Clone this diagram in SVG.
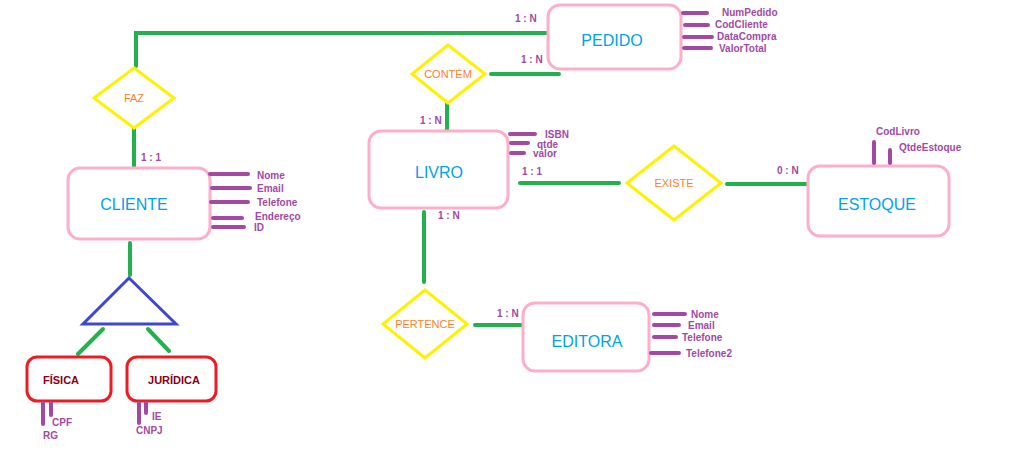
<svg xmlns="http://www.w3.org/2000/svg" width="1018" height="450" viewBox="0 0 1018 450">
<style>
.ent{fill:#fff;stroke:#FFAEC9;stroke-width:3}
.sub{fill:#fff;stroke:#ED1C24;stroke-width:3}
.rel{fill:#fff;stroke:#FFF200;stroke-width:3}
.en{font-family:"Liberation Sans",Arial,sans-serif;font-size:16px;fill:#00A2E8;text-anchor:middle}
.sn{font-family:"Liberation Sans",Arial,sans-serif;font-size:11px;font-weight:bold;fill:#880015;text-anchor:middle}
.rn{font-family:"Liberation Sans",Arial,sans-serif;font-size:11px;fill:#FF7F27;text-anchor:middle}
.at{font-family:"Liberation Sans",Arial,sans-serif;font-size:10px;font-weight:bold;fill:#A349A4}
.ca{font-family:"Liberation Sans",Arial,sans-serif;font-size:10px;font-weight:bold;fill:#A349A4}
.al{stroke:#A349A4;stroke-width:4;stroke-linecap:round;fill:none}
.cn{stroke:#22B14C;stroke-width:4;stroke-linecap:round;fill:none}
</style>
<rect width="1018" height="450" fill="#fff"/>
<g id="connectors">
<polyline class="cn" points="547,33 136,33 136,66"/>
<line class="cn" x1="134" y1="128" x2="134" y2="167"/>
<line class="cn" x1="491" y1="74" x2="559" y2="74"/>
<line class="cn" x1="447" y1="104" x2="447" y2="130"/>
<line class="cn" x1="520" y1="183" x2="619" y2="183"/>
<line class="cn" x1="727" y1="184" x2="806" y2="184"/>
<line class="cn" x1="424" y1="212" x2="424" y2="282"/>
<line class="cn" x1="475" y1="325" x2="522" y2="325"/>
<line class="cn" x1="130" y1="243" x2="130" y2="275"/>
<line class="cn" x1="103" y1="329" x2="78" y2="354"/>
<line class="cn" x1="148" y1="329" x2="169" y2="351"/>
<text class="ca" x="515" y="22">1 : N</text>
<text class="ca" x="521" y="63">1 : N</text>
<text class="ca" x="141" y="161">1 : 1</text>
<text class="ca" x="420" y="124">1 : N</text>
<text class="ca" x="522" y="175">1 : 1</text>
<text class="ca" x="438" y="219">1 : N</text>
<text class="ca" x="777" y="174">0 : N</text>
<text class="ca" x="497" y="317">1 : N</text>
</g>
<g id="pedido">
<rect class="ent" x="548" y="5" width="133" height="64" rx="12"/>
<text class="en" x="612" y="46">PEDIDO</text>
<line class="al" x1="683" y1="13" x2="707" y2="13"/>
<line class="al" x1="685" y1="25" x2="708" y2="25"/>
<line class="al" x1="684" y1="37" x2="712" y2="37"/>
<line class="al" x1="684" y1="48" x2="711" y2="48"/>
<text class="at" x="722" y="16">NumPedido</text>
<text class="at" x="715" y="28">CodCliente</text>
<text class="at" x="717" y="39.5">DataCompra</text>
<text class="at" x="719" y="51.5">ValorTotal</text>
</g>
<g id="faz">
<polygon class="rel" points="134,68 174,98 134,128 94,98"/>
<text class="rn" x="134" y="102">FAZ</text>
</g>
<g id="contem">
<polygon class="rel" points="448,45 485,74 448,103 412,74"/>
<text class="rn" x="448" y="78">CONTÉM</text>
</g>
<g id="cliente">
<rect class="ent" x="68" y="168" width="142" height="71" rx="12"/>
<text class="en" x="134" y="210">CLIENTE</text>
<line class="al" x1="210" y1="174" x2="248" y2="174"/>
<line class="al" x1="212" y1="188" x2="250" y2="188"/>
<line class="al" x1="211" y1="202" x2="248" y2="202"/>
<line class="al" x1="213" y1="218" x2="242" y2="218"/>
<line class="al" x1="213" y1="227" x2="244" y2="227"/>
<text class="at" x="257" y="178.5">Nome</text>
<text class="at" x="257" y="191.5">Email</text>
<text class="at" x="257" y="205.5">Telefone</text>
<text class="at" x="255" y="220">Endereço</text>
<text class="at" x="254" y="230.5">ID</text>
</g>
<g id="heranca">
<polygon points="129,278 176,324 83,324" fill="none" stroke="#3F48CC" stroke-width="3" stroke-linejoin="miter"/>
</g>
<g id="fisica">
<rect class="sub" x="27" y="357" width="84" height="44" rx="10"/>
<text class="sn" x="61" y="384">FÍSICA</text>
<line class="al" x1="43" y1="403" x2="43" y2="424"/>
<line class="al" x1="51" y1="403" x2="51" y2="415"/>
<text class="at" x="52" y="425.5">CPF</text>
<text class="at" x="43" y="439">RG</text>
</g>
<g id="juridica">
<rect class="sub" x="127" y="357" width="89" height="44" rx="10"/>
<text class="sn" x="174" y="384">JURÍDICA</text>
<line class="al" x1="139" y1="403" x2="139" y2="423"/>
<line class="al" x1="146" y1="403" x2="146" y2="413"/>
<text class="at" x="152" y="419.5">IE</text>
<text class="at" x="136" y="433.5">CNPJ</text>
</g>
<g id="livro">
<rect class="ent" x="369" y="131" width="139" height="77" rx="12"/>
<text class="en" x="439" y="178">LIVRO</text>
<line class="al" x1="510" y1="134" x2="535" y2="134"/>
<line class="al" x1="511" y1="143" x2="528" y2="143"/>
<line class="al" x1="511" y1="153" x2="524" y2="153"/>
<text class="at" x="545" y="138">ISBN</text>
<text class="at" x="537" y="147.5">qtde</text>
<text class="at" x="533" y="156.5">valor</text>
</g>
<g id="existe">
<polygon class="rel" points="674,146 721,183 674,220 627,183"/>
<text class="rn" x="674" y="187">EXISTE</text>
</g>
<g id="estoque">
<rect class="ent" x="808" y="166" width="141" height="70" rx="12"/>
<text class="en" x="877" y="210">ESTOQUE</text>
<line class="al" x1="874" y1="142" x2="874" y2="163"/>
<line class="al" x1="890" y1="150" x2="890" y2="163"/>
<text class="at" x="876" y="134.5">CodLivro</text>
<text class="at" x="899" y="150.5">QtdeEstoque</text>
</g>
<g id="pertence">
<polygon class="rel" points="425,290 467,324 425,358 383,324"/>
<text class="rn" x="425" y="328">PERTENCE</text>
</g>
<g id="editora">
<rect class="ent" x="523" y="303" width="126" height="68" rx="12"/>
<text class="en" x="587" y="347">EDITORA</text>
<line class="al" x1="654" y1="314" x2="685" y2="314"/>
<line class="al" x1="654" y1="325" x2="679" y2="325"/>
<line class="al" x1="654" y1="337" x2="676" y2="337"/>
<line class="al" x1="651" y1="353" x2="679" y2="353"/>
<text class="at" x="691" y="317.5">Nome</text>
<text class="at" x="688" y="328.5">Email</text>
<text class="at" x="682" y="340.5">Telefone</text>
<text class="at" x="686" y="356.5">Telefone2</text>
</g>
</svg>
